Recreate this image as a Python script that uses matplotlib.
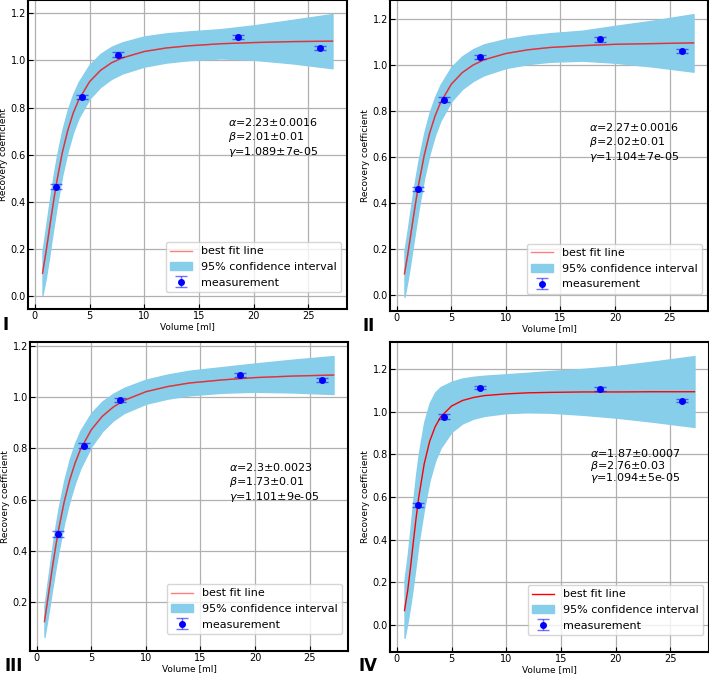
import numpy as np
import matplotlib.pyplot as plt
from matplotlib.ticker import MultipleLocator
from matplotlib.transforms import offset_copy

# ======================
# 1. Datos
# ======================
vol_meas = [1.9, 4.3, 7.6, 18.6, 26.1]

rc_I = [0.464, 0.845, 1.024, 1.098, 1.053]
rc_II = [0.463, 0.851, 1.036, 1.112, 1.061]
rc_III = [0.465, 0.810, 0.987, 1.087, 1.066]
rc_IV = [0.564, 0.977, 1.112, 1.105, 1.051]
err_I = [0.010, 0.010, 0.010, 0.008, 0.008]
err_II = [0.010, 0.010, 0.010, 0.009, 0.008]
err_III = [0.012, 0.010, 0.008, 0.008, 0.008]
err_IV = [0.010, 0.010, 0.008, 0.008, 0.008]

vol_fit = [0.7, 1.0, 1.25, 1.5, 1.75, 2.0, 2.5, 3.0, 3.5, 4.0, 5.0,
           6.0, 7.0, 8.0, 10.0, 12.0, 14.0, 17.0, 20.0, 23.5, 27.2]

fit_I = [0.097, 0.181, 0.259, 0.338, 0.414, 0.485, 0.607, 0.702, 0.776, 0.832, 0.910,
         0.958, 0.990, 1.011, 1.038, 1.053, 1.062, 1.071, 1.076, 1.080, 1.082]
low_I = [0.005, 0.076, 0.149, 0.228, 0.306, 0.381, 0.512, 0.615, 0.696, 0.756, 0.838,
         0.888, 0.922, 0.945, 0.974, 0.991, 1.001, 1.009, 1.003, 0.988, 0.967]
up_I = [0.189, 0.286, 0.369, 0.448, 0.522, 0.589, 0.702, 0.789, 0.856, 0.908, 0.982,
        1.028, 1.058, 1.077, 1.102, 1.115, 1.123, 1.133, 1.149, 1.172, 1.197]

fit_II = [0.094, 0.177, 0.255, 0.334, 0.410, 0.482, 0.606, 0.704, 0.779, 0.837, 0.918,
          0.968, 1.001, 1.024, 1.051, 1.067, 1.077, 1.085, 1.091, 1.094, 1.097]
low_II = [-0.006, 0.069, 0.143, 0.222, 0.300, 0.376, 0.509, 0.615, 0.697, 0.759, 0.844,
          0.897, 0.932, 0.957, 0.988, 1.005, 1.015, 1.020, 1.011, 0.994, 0.972]
up_II = [0.194, 0.285, 0.367, 0.446, 0.520, 0.588, 0.703, 0.793, 0.861, 0.915, 0.992,
         1.039, 1.070, 1.091, 1.114, 1.129, 1.139, 1.150, 1.171, 1.194, 1.222]

fit_III = [0.125, 0.211, 0.284, 0.356, 0.423, 0.484, 0.590, 0.675, 0.742, 0.796, 0.873,
           0.925, 0.961, 0.987, 1.021, 1.041, 1.055, 1.067, 1.076, 1.082, 1.086]
low_III = [0.065, 0.141, 0.209, 0.276, 0.341, 0.401, 0.508, 0.595, 0.665, 0.723, 0.808,
           0.867, 0.909, 0.938, 0.974, 0.994, 1.007, 1.017, 1.021, 1.018, 1.012]
up_III = [0.185, 0.281, 0.359, 0.436, 0.505, 0.567, 0.672, 0.755, 0.819, 0.869, 0.938,
          0.983, 1.013, 1.036, 1.068, 1.088, 1.103, 1.117, 1.131, 1.146, 1.160]

fit_IV = [0.068, 0.165, 0.271, 0.386, 0.497, 0.598, 0.755, 0.861, 0.929, 0.975, 1.026,
          1.052, 1.066, 1.075, 1.083, 1.088, 1.090, 1.092, 1.092, 1.093, 1.093]
low_IV = [-0.060, 0.020, 0.100, 0.190, 0.290, 0.390, 0.550, 0.680, 0.770, 0.830, 0.905,
          0.945, 0.967, 0.980, 0.993, 0.997, 0.995, 0.985, 0.972, 0.952, 0.928]
up_IV = [0.210, 0.330, 0.450, 0.580, 0.700, 0.800, 0.950, 1.040, 1.090, 1.115, 1.140,
         1.155, 1.163, 1.168, 1.175, 1.182, 1.190, 1.200, 1.213, 1.235, 1.260]

params_I = [r"$\alpha$=2.23±0.0016", r"$\beta$=2.01±0.01", r"$\gamma$=1.089±7e-05"]
params_II = [r"$\alpha$=2.27±0.0016", r"$\beta$=2.02±0.01", r"$\gamma$=1.104±7e-05"]
params_III = [r"$\alpha$=2.3±0.0023", r"$\beta$=1.73±0.01", r"$\gamma$=1.101±9e-05"]
params_IV = [r"$\alpha$=1.87±0.0007", r"$\beta$=2.76±0.03", r"$\gamma$=1.094±5e-05"]

# ======================
# 2. Layout (pixeles de la figura 709x674)
# ======================
W, H = 709, 674
fig = plt.figure(figsize=(W / 100, H / 100), dpi=100)

paneles = [
    # etiqueta, caja (izq, der, arriba, abajo), datos, texto, y texto, paso, pos etiqueta
    ("I", (28, 347, 0, 309), rc_I, err_I, fit_I, low_I, up_I, params_I, 0.737, 15, (2, 325)),
    ("II", (390, 708, 0, 311), rc_II, err_II, fit_II, low_II, up_II, params_II, 0.733, 15, (362, 326)),
    ("III", (30, 348, 342, 651), rc_III, err_III, fit_III, low_III, up_III, params_III, 0.729, 15, (4, 666)),
    ("IV", (390, 709, 342, 652), rc_IV, err_IV, fit_IV, low_IV, up_IV, params_IV, 0.805, 12.5, (359, 666)),
]

for (nombre, caja, rc, err, fit, low, up, params, ytxt, paso, pos_lbl) in paneles:
    x0, x1, y0, y1 = caja
    ax = fig.add_axes([x0 / W, 1 - y1 / H, (x1 - x0) / W, (y1 - y0) / H])
    ax.set_axisbelow(True)

    banda = ax.fill_between(vol_fit, low, up, color="skyblue", label="95% confidence interval")
    if nombre == "IV":
        linea, = ax.plot(vol_fit, fit, color="red", lw=1, label="best fit line")
    else:
        linea, = ax.plot(vol_fit, fit, color="red", lw=1, alpha=0.5, label="best fit line")
        ax.plot(vol_fit, fit, color="red", lw=1, alpha=0.5)
    medida = ax.errorbar(vol_meas, rc, yerr=err, fmt="o", color="blue", ms=4,
                         ecolor=(0, 0, 1, 0.55), elinewidth=1, capsize=4, label="measurement")

    ax.xaxis.set_major_locator(MultipleLocator(5))
    ax.yaxis.set_major_locator(MultipleLocator(0.2))
    ax.tick_params(direction="in", labelsize=7, length=3.5, pad=1.5)
    ax.grid(True, color="#b0b0b0", lw=0.9)
    for s in ax.spines.values():
        s.set_linewidth(1.5)
        s.set_color("black")

    ax.set_xlabel("Volume [ml]", fontsize=6.5, labelpad=1)
    ax.set_ylabel("Recovery coefficient", fontsize=6.5, labelpad=2)

    for i, txt in enumerate(params):
        tr = offset_copy(ax.transData, fig=fig, x=0, y=-i * paso, units="dots")
        ax.text(17.65, ytxt, txt, fontsize=8, va="center", ha="left", transform=tr)

    ax.legend([linea, banda, medida], ["best fit line", "95% confidence interval", "measurement"],
              loc="lower right", bbox_to_anchor=(1.0, 0.037), fontsize=8)

    fig.text(pos_lbl[0] / W, 1 - pos_lbl[1] / H, nombre, fontsize=12,
             fontweight="bold", ha="left", va="center")

plt.savefig("out.png", dpi=100)
